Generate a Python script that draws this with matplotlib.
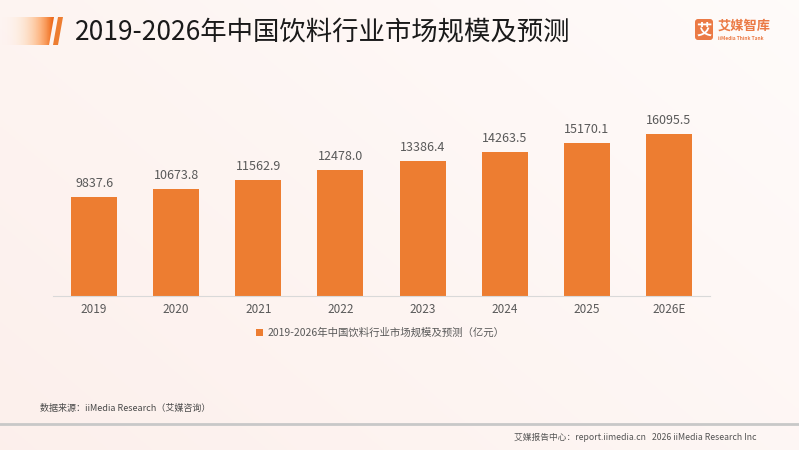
import matplotlib.pyplot as plt
from matplotlib.patches import FancyBboxPatch, Polygon
import numpy as np

plt.rcParams['font.family'] = ['Noto Sans CJK SC', 'DejaVu Sans']

years = ['2019', '2020', '2021', '2022', '2023', '2024', '2025', '2026E']
market_size = [9837.6, 10673.8, 11562.9, 12478.0, 13386.4, 14263.5, 15170.1, 16095.5]
title = '2019-2026年中国饮料行业市场规模及预测'
legend_label = '2019-2026年中国饮料行业市场规模及预测（亿元）'
source = '数据来源：iiMedia Research（艾媒咨询）'
footer = '艾媒报告中心：report.iimedia.cn   2026 iiMedia Research Inc'

W, H = 799, 450
orange = '#ED7D31'
fig = plt.figure(figsize=(W / 100, H / 100), dpi=100)

# background gradient
bg = fig.add_axes([0, 0, 1, 1])
grad = np.linspace(0, 1, 256)
xx, yy = np.meshgrid(grad, grad)
t = np.clip(0.6 * xx + 0.4 * (1 - yy), 0, 1)
c0 = np.array([0.99, 0.94, 0.925])
c1 = np.array([1.0, 0.985, 0.98])
img = c0[None, None, :] * (1 - t[..., None]) + c1[None, None, :] * t[..., None]
bg.imshow(img, extent=[0, W, 0, H], aspect='auto', origin='lower')

# title decoration: fading orange band (slanted right edge) + slash
band = np.linspace(0, 1, 100)[None, :] ** 1.5
im = bg.imshow(band, extent=[0, 55, 45, 17], aspect='auto', cmap='Oranges',
               vmin=-0.3, vmax=1.6, alpha=band)
clip = Polygon([[0, 45], [49, 45], [54, 17], [0, 17]], closed=True,
               transform=bg.transData, fc='none', lw=0)
bg.add_patch(clip)
im.set_clip_path(clip)
bg.add_patch(Polygon([[53, 45], [58, 45], [63, 17], [58, 17]], closed=True,
                     color=orange, lw=0))
bg.set_xlim(0, W)
bg.set_ylim(H, 0)
bg.axis('off')
bg.text(75, 33, title, fontsize=19, color='#1a1a1a', va='center', ha='left')

# logo
bg.add_patch(FancyBboxPatch((695, 19), 18, 21, boxstyle='round,pad=0,rounding_size=3',
                            color='#EB7A45', lw=0))
bg.text(704, 29.5, '艾', fontsize=11, color='white', ha='center', va='center',
        fontweight='bold')
bg.text(718, 26, '艾媒智库', fontsize=9.5, color='#EB7A45', ha='left', va='center',
        fontweight='bold')
bg.text(718, 38, 'iiMedia Think Tank', fontsize=3.5, color='#EB7A45', ha='left',
        va='center', fontweight='bold')

# source + footer
bg.text(40, 408, source, fontsize=6.5, color='#4a4a4a', ha='left', va='center')
bg.plot([0, W], [424, 424], color='#c8c8c8', lw=2)
bg.text(756, 437, footer, fontsize=6.3, color='#555555', ha='right', va='center')

# chart
ax_left, ax_right, ax_base, ax_top = 53, 710, 296, 100
ax = fig.add_axes([ax_left / W, (H - ax_base) / H, (ax_right - ax_left) / W,
                   (ax_base - ax_top) / H])
ax.set_facecolor('none')
x = np.arange(len(years))
ax.bar(x, market_size, width=0.56, color=orange, label=legend_label)
ax.set_xlim(-0.5, len(years) - 0.5)
ax.set_ylim(0, 19480)
for xi, v in zip(x, market_size):
    ax.text(xi, v + 700, f'{v:.1f}', ha='center', va='bottom', fontsize=9,
            color='#595959')
ax.set_xticks(x)
ax.set_xticklabels(years, fontsize=8.5, color='#595959')
ax.tick_params(axis='x', length=0, pad=5)
ax.set_yticks([])
for s in ['top', 'right', 'left']:
    ax.spines[s].set_visible(False)
ax.spines['bottom'].set_color('#d9d9d9')

leg = fig.legend(loc='center', bbox_to_anchor=(380 / W, 1 - 333 / H), frameon=False,
                 fontsize=7.5, handlelength=0.7, handleheight=0.7, handletextpad=0.4)
for txt in leg.get_texts():
    txt.set_color('#595959')

fig.savefig('out.png', dpi=100)
